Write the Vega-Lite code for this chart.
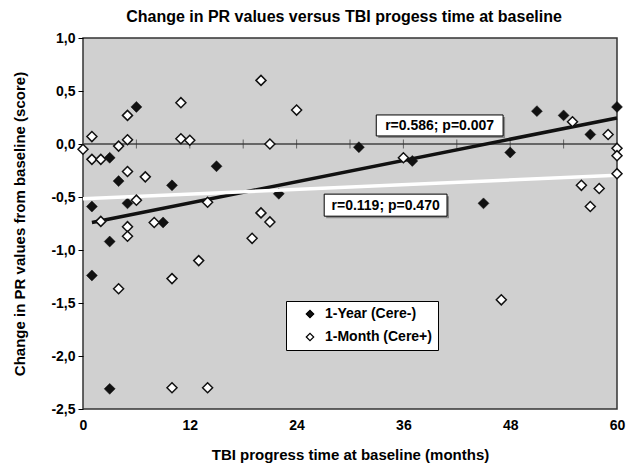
{
  "$schema": "https://vega.github.io/schema/vega-lite/v6.json",
  "width": 534,
  "height": 371,
  "autosize": {"type": "none"},
  "padding": {"left": 83, "top": 38, "right": 9, "bottom": 54},
  "background": "white",
  "title": {
    "text": "Change in PR values versus TBI progess time at baseline",
    "fontSize": 16,
    "fontWeight": "bold",
    "font": "Liberation Sans",
    "color": "black",
    "anchor": "middle",
    "frame": "group",
    "offset": 6,
    "dx": -6
  },
  "config": {
    "font": "Liberation Sans",
    "view": {"fill": "#d0d0d0", "stroke": "#333333", "strokeWidth": 1.5}
  },
  "datasets": {
    "points": [
      {"months": 6, "change": 0.35, "group": "1-Year (Cere-)"},
      {"months": 3, "change": -0.13, "group": "1-Year (Cere-)"},
      {"months": 15, "change": -0.21, "group": "1-Year (Cere-)"},
      {"months": 4, "change": -0.35, "group": "1-Year (Cere-)"},
      {"months": 10, "change": -0.39, "group": "1-Year (Cere-)"},
      {"months": 1, "change": -0.59, "group": "1-Year (Cere-)"},
      {"months": 5, "change": -0.56, "group": "1-Year (Cere-)"},
      {"months": 9, "change": -0.74, "group": "1-Year (Cere-)"},
      {"months": 3, "change": -0.92, "group": "1-Year (Cere-)"},
      {"months": 1, "change": -1.24, "group": "1-Year (Cere-)"},
      {"months": 3, "change": -2.31, "group": "1-Year (Cere-)"},
      {"months": 31, "change": -0.03, "group": "1-Year (Cere-)"},
      {"months": 37, "change": -0.16, "group": "1-Year (Cere-)"},
      {"months": 22, "change": -0.47, "group": "1-Year (Cere-)"},
      {"months": 51, "change": 0.31, "group": "1-Year (Cere-)"},
      {"months": 54, "change": 0.27, "group": "1-Year (Cere-)"},
      {"months": 57, "change": 0.09, "group": "1-Year (Cere-)"},
      {"months": 48, "change": -0.08, "group": "1-Year (Cere-)"},
      {"months": 60, "change": 0.35, "group": "1-Year (Cere-)"},
      {"months": 45, "change": -0.56, "group": "1-Year (Cere-)"},
      {"months": 20, "change": 0.6, "group": "1-Month (Cere+)"},
      {"months": 5, "change": 0.27, "group": "1-Month (Cere+)"},
      {"months": 11, "change": 0.39, "group": "1-Month (Cere+)"},
      {"months": 1, "change": 0.07, "group": "1-Month (Cere+)"},
      {"months": 11, "change": 0.05, "group": "1-Month (Cere+)"},
      {"months": 12, "change": 0.035, "group": "1-Month (Cere+)"},
      {"months": 5, "change": 0.04, "group": "1-Month (Cere+)"},
      {"months": 4, "change": -0.02, "group": "1-Month (Cere+)"},
      {"months": 0, "change": -0.05, "group": "1-Month (Cere+)"},
      {"months": 1, "change": -0.145, "group": "1-Month (Cere+)"},
      {"months": 2, "change": -0.145, "group": "1-Month (Cere+)"},
      {"months": 5, "change": -0.26, "group": "1-Month (Cere+)"},
      {"months": 7, "change": -0.31, "group": "1-Month (Cere+)"},
      {"months": 6, "change": -0.53, "group": "1-Month (Cere+)"},
      {"months": 14, "change": -0.55, "group": "1-Month (Cere+)"},
      {"months": 2, "change": -0.73, "group": "1-Month (Cere+)"},
      {"months": 5, "change": -0.78, "group": "1-Month (Cere+)"},
      {"months": 5, "change": -0.87, "group": "1-Month (Cere+)"},
      {"months": 8, "change": -0.74, "group": "1-Month (Cere+)"},
      {"months": 20, "change": -0.65, "group": "1-Month (Cere+)"},
      {"months": 21, "change": -0.735, "group": "1-Month (Cere+)"},
      {"months": 19, "change": -0.89, "group": "1-Month (Cere+)"},
      {"months": 13, "change": -1.1, "group": "1-Month (Cere+)"},
      {"months": 10, "change": -1.27, "group": "1-Month (Cere+)"},
      {"months": 4, "change": -1.365, "group": "1-Month (Cere+)"},
      {"months": 10, "change": -2.3, "group": "1-Month (Cere+)"},
      {"months": 14, "change": -2.3, "group": "1-Month (Cere+)"},
      {"months": 24, "change": 0.32, "group": "1-Month (Cere+)"},
      {"months": 21, "change": 0.0, "group": "1-Month (Cere+)"},
      {"months": 36, "change": -0.13, "group": "1-Month (Cere+)"},
      {"months": 55, "change": 0.21, "group": "1-Month (Cere+)"},
      {"months": 59, "change": 0.09, "group": "1-Month (Cere+)"},
      {"months": 60, "change": -0.04, "group": "1-Month (Cere+)"},
      {"months": 60, "change": -0.11, "group": "1-Month (Cere+)"},
      {"months": 60, "change": -0.28, "group": "1-Month (Cere+)"},
      {"months": 56, "change": -0.39, "group": "1-Month (Cere+)"},
      {"months": 58, "change": -0.42, "group": "1-Month (Cere+)"},
      {"months": 57, "change": -0.59, "group": "1-Month (Cere+)"},
      {"months": 47, "change": -1.47, "group": "1-Month (Cere+)"}
    ],
    "zeroticks": [
      {"months": 6, "change": 0}, {"months": 12, "change": 0}, {"months": 18, "change": 0},
      {"months": 24, "change": 0}, {"months": 30, "change": 0}, {"months": 36, "change": 0},
      {"months": 42, "change": 0}, {"months": 48, "change": 0}, {"months": 54, "change": 0}
    ],
    "notes": [
      {"left": 32.95, "right": 47.2, "low": 0.076, "high": 0.274, "cx": 40.07, "cy": 0.175, "label": "r=0.586; p=0.007"},
      {"left": 27.1, "right": 40.9, "low": -0.681, "high": -0.473, "cx": 34.0, "cy": -0.577, "label": "r=0.119; p=0.470"}
    ]
  },
  "layer": [
    {
      "data": {"values": [{"change": 0}]},
      "mark": {"type": "rule", "color": "#666666", "strokeWidth": 2},
      "encoding": {
        "y": {"field": "change", "type": "quantitative", "scale": {"domain": [-2.5, 1.0], "nice": false, "zero": false}}
      }
    },
    {
      "data": {"name": "zeroticks"},
      "mark": {"type": "tick", "orient": "vertical", "color": "#333333", "size": 9, "thickness": 1},
      "encoding": {
        "x": {"field": "months", "type": "quantitative", "scale": {"domain": [0, 60], "nice": false, "zero": false}},
        "y": {"field": "change", "type": "quantitative"}
      }
    },
    {
      "data": {"name": "points"},
      "transform": [{"filter": "datum.group === '1-Year (Cere-)'"}],
      "mark": {"type": "point", "shape": "diamond", "filled": true, "size": 120, "stroke": "#111111", "strokeWidth": 0.5, "opacity": 1},
      "encoding": {
        "x": {
          "field": "months",
          "type": "quantitative",
          "scale": {"domain": [0, 60], "nice": false, "zero": false},
          "axis": {
            "values": [0, 12, 24, 36, 48, 60],
            "ticks": false,
            "domain": false,
            "grid": false,
            "labelFlush": false,
            "labelPadding": 9,
            "labelFontSize": 14,
            "labelFontWeight": "bold",
            "labelColor": "black",
            "title": "TBI progress time at baseline (months)",
            "titleFontSize": 15,
            "titleFontWeight": "bold",
            "titleColor": "black",
            "titlePadding": 15
          }
        },
        "y": {
          "field": "change",
          "type": "quantitative",
          "scale": {"domain": [-2.5, 1.0], "nice": false, "zero": false},
          "axis": {
            "values": [-2.5, -2, -1.5, -1, -0.5, 0, 0.5, 1],
            "labelExpr": "(datum.value < 0 ? '-' : '') + replace(format(abs(datum.value), '.1f'), '.', ',')",
            "ticks": true,
            "tickSize": 5,
            "tickColor": "black",
            "domain": false,
            "grid": false,
            "labelPadding": 3,
            "labelFontSize": 14,
            "labelFontWeight": "bold",
            "labelColor": "black",
            "title": "Change in PR values from baseline (score)",
            "titleFontSize": 15,
            "titleFontWeight": "bold",
            "titleColor": "black",
            "titlePadding": 23
          }
        },
        "fill": {
          "field": "group",
          "type": "nominal",
          "scale": {"domain": ["1-Year (Cere-)", "1-Month (Cere+)"], "range": ["#111111", "white"]},
          "legend": {
            "title": null,
            "orient": "none",
            "legendX": 203,
            "legendY": 263,
            "direction": "vertical",
            "fillColor": "white",
            "strokeColor": "black",
            "padding": 6,
            "symbolType": "diamond",
            "symbolSize": 55,
            "symbolStrokeColor": "black",
            "symbolStrokeWidth": 1.2,
            "symbolOffset": 11,
            "labelOffset": 8,
            "labelFontSize": 14,
            "labelFontWeight": "bold",
            "labelColor": "black",
            "rowPadding": 9
          }
        }
      }
    },
    {
      "data": {"name": "points"},
      "transform": [
        {"filter": "datum.group === '1-Year (Cere-)'"},
        {"regression": "change", "on": "months"}
      ],
      "mark": {"type": "line", "color": "#111111", "strokeWidth": 3.5},
      "encoding": {
        "x": {"field": "months", "type": "quantitative"},
        "y": {"field": "change", "type": "quantitative"}
      }
    },
    {
      "data": {"name": "points"},
      "transform": [
        {"filter": "datum.group === '1-Month (Cere+)'"},
        {"regression": "change", "on": "months"}
      ],
      "mark": {"type": "line", "color": "white", "strokeWidth": 3.5},
      "encoding": {
        "x": {"field": "months", "type": "quantitative"},
        "y": {"field": "change", "type": "quantitative"}
      }
    },
    {
      "data": {"name": "points"},
      "transform": [{"filter": "datum.group === '1-Month (Cere+)'"}],
      "mark": {"type": "point", "shape": "diamond", "filled": true, "size": 100, "stroke": "#111111", "strokeWidth": 1.5, "opacity": 1},
      "encoding": {
        "x": {"field": "months", "type": "quantitative"},
        "y": {"field": "change", "type": "quantitative"},
        "fill": {"field": "group", "type": "nominal"}
      }
    },
    {
      "data": {"name": "notes"},
      "mark": {"type": "rect", "fill": "#888888", "xOffset": 2, "yOffset": 2, "x2Offset": 2, "y2Offset": 2},
      "encoding": {
        "x": {"field": "left", "type": "quantitative"},
        "x2": {"field": "right"},
        "y": {"field": "low", "type": "quantitative"},
        "y2": {"field": "high"}
      }
    },
    {
      "data": {"name": "notes"},
      "mark": {"type": "rect", "fill": "white", "stroke": "black", "strokeWidth": 1},
      "encoding": {
        "x": {"field": "left", "type": "quantitative"},
        "x2": {"field": "right"},
        "y": {"field": "low", "type": "quantitative"},
        "y2": {"field": "high"}
      }
    },
    {
      "data": {"name": "notes"},
      "mark": {"type": "text", "fontSize": 14, "fontWeight": "bold", "color": "black", "align": "center", "baseline": "middle", "dy": 1},
      "encoding": {
        "x": {"field": "cx", "type": "quantitative"},
        "y": {"field": "cy", "type": "quantitative"},
        "text": {"field": "label"}
      }
    }
  ]
}
